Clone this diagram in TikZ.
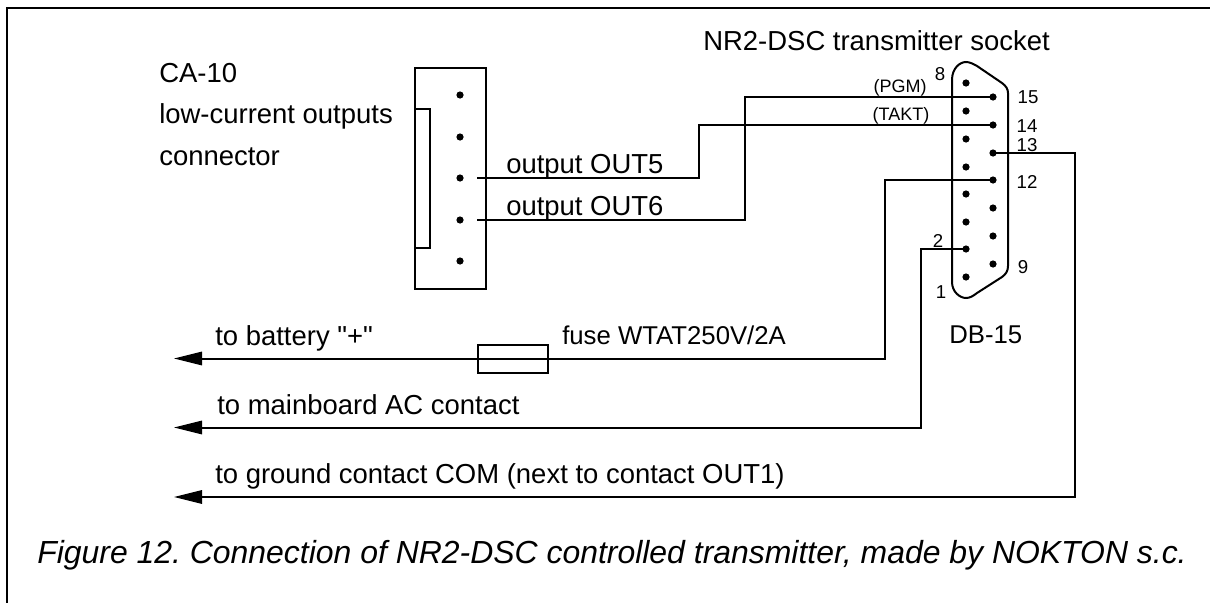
\documentclass[tikz,border=0pt]{standalone}
\usepackage{fontspec}
\newfontfamily\arial{Liberation Sans}
\usetikzlibrary{arrows.meta}
\tikzset{
 x=0.75pt,y=-0.75pt,
 wire/.style={line width=1.5pt,line join=miter},
 thin box/.style={draw,line width=1.5pt},
 pin/.style={circle,fill=black,inner sep=0pt,minimum size=5.4pt},
 big/.style={inner sep=0pt,font=\arial\fontsize{20.6pt}{24pt}\selectfont},
 mid/.style={inner sep=0pt,font=\arial\fontsize{19.3pt}{24pt}\selectfont},
 small/.style={inner sep=0pt,font=\arial\fontsize{14pt}{17pt}\selectfont},
 tiny/.style={inner sep=0pt,font=\arial\fontsize{13.5pt}{16pt}\selectfont},
 arr/.style={-{Triangle[length=21pt,width=10pt]}}
}
\begin{document}
\begin{tikzpicture}
\useasboundingbox (0,0) rectangle (1210,603);
\draw[line width=1.5pt] (7,603) -- (7,7.5) -- (1210,7.5);
% connector
\draw[thin box] (415,68) rectangle (486,289);
\draw[thin box] (415,109) -- (430,109) -- (430,248) -- (415,248);
\foreach \n/\y in {a/95,b/137,c/178,d/220,e/261}
  \node[pin] (c\n) at (460,\y) {};
% socket
\draw[wire] (952,80) .. controls (952,68) and (960,62) .. (966,62)
  .. controls (970,62) and (973,64) .. (977,66) -- (1002,83)
  .. controls (1006,86) and (1008,89) .. (1008,93) -- (1008,266)
  .. controls (1008,271) and (1006,274) .. (1002,277) -- (977,293)
  .. controls (973,296) and (970,298) .. (966,298)
  .. controls (960,298) and (952,292) .. (952,282) -- cycle;
\foreach \i/\y in {8/83,7/111,6/139,5/167,4/194,3/222,2/249,1/277}
  \node[pin] (L\i) at (966,\y) {};
\foreach \i/\y in {15/97,14/125,13/153,12/180,11/208,10/236,9/264}
  \node[pin] (R\i) at (993,\y) {};
% wires
\coordinate (s5) at (477,178);
\coordinate (s6) at (477,220);
\draw[wire] (s5) -| (699,125) -- (R14.center);
\draw[wire] (s6) -| (744.5,97) -- (R15.center);
\node[thin box,minimum width=52pt,minimum height=21pt,inner sep=0pt] (fuse) at (513,358.5) {};
\coordinate (e1) at (174,358.5);
\coordinate (e2) at (174,427.5);
\coordinate (e3) at (174,497);
\draw[wire,arr] (R12.center) -- (884.5,180) -- (884.5,358.5) -- (fuse.east) -- (fuse.west) -- (e1);
\draw[wire,arr] (L2.center) -- (920.5,249) -- (920.5,427.5) -- (e2);
\draw[wire,arr] (R13.center) -- (1075,153) -- (1075,497) -- (e3);
% texts
\node[big,anchor=base west] (t1) at (703,50) {NR2-DSC transmitter socket};
\node[big,anchor=base west] (t2) at (159,82) {CA-10};
\node[big,anchor=base west] (t3) at (159,123) {low-current outputs};
\node[big,anchor=base west] (t4) at (159,165) {connector};
\node[big,anchor=base west] (t5) at (506,173) {output OUT5};
\node[big,anchor=base west] (t6) at (506,215) {output OUT6};
\node[big,anchor=base west] (t7) at (215,345) {to battery "+"};
\node[mid,anchor=base west] (t8) at (562,344) {fuse WTAT250V/2A};
\node[mid,anchor=base west] (t9) at (949,343) {DB-15};
\node[big,anchor=base west] (t10) at (217,414) {to mainboard AC contact};
\node[big,anchor=base west] (t11) at (215,483) {to ground contact COM (next to contact OUT1)};
\node[anchor=base west,inner sep=0pt,font=\arial\fontsize{23.95pt}{28pt}\selectfont\itshape\frenchspacing] (t12) at (37,563) {Figure 12. Connection of NR2-DSC controlled transmitter, made by NOKTON s.c.};
\node[tiny,anchor=base] (p1) at (900,92) {(PGM)};
\node[tiny,anchor=base] (p2) at (901,120) {(TAKT)};
\node[small,anchor=base] at (940,80) {8};
\node[small,anchor=base] at (1028,103) {15};
\node[small,anchor=base] at (1027,132) {14};
\node[small,anchor=base] at (1027,151) {13};
\node[small,anchor=base] at (1027,188) {12};
\node[small,anchor=base] at (1023,273) {9};
\node[small,anchor=base] at (938,247) {2};
\node[small,anchor=base] at (941,298) {1};
\end{tikzpicture}
\end{document}
